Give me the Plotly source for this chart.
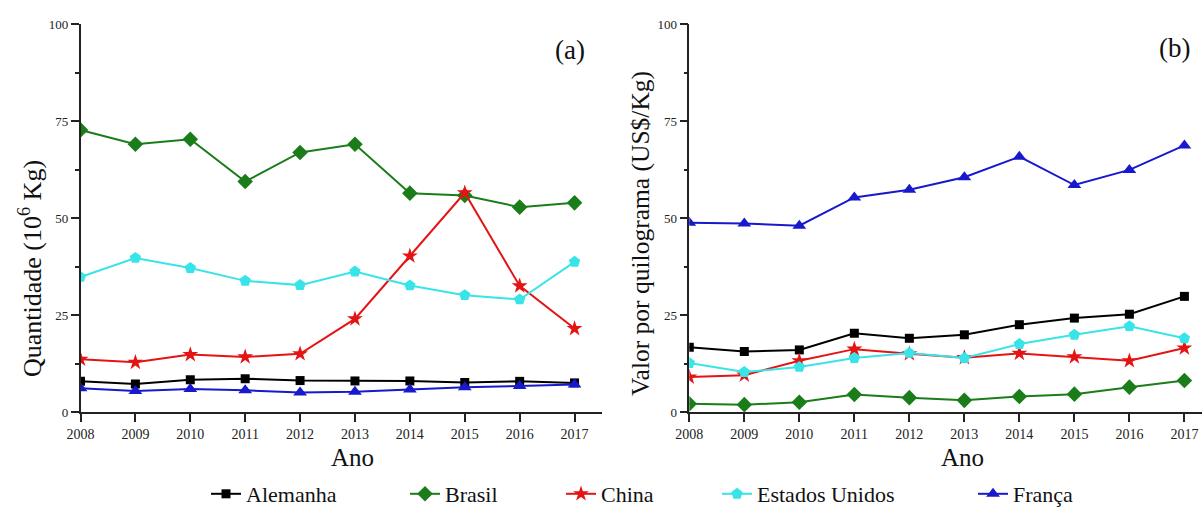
import plotly.graph_objects as go

anos = [2008, 2009, 2010, 2011, 2012, 2013, 2014, 2015, 2016, 2017]

# Panel (a): Quantidade (10^6 Kg)
qa_alemanha = [7.9, 7.2, 8.3, 8.6, 8.1, 8.0, 8.0, 7.6, 7.9, 7.5]
qa_brasil = [72.7, 69.0, 70.3, 59.4, 66.9, 69.0, 56.4, 55.8, 52.8, 53.9]
qa_china = [13.6, 12.8, 14.8, 14.2, 15.0, 24.0, 40.2, 56.5, 32.5, 21.5]
qa_eua = [34.8, 39.7, 37.1, 33.8, 32.7, 36.2, 32.6, 30.1, 29.0, 38.7]
qa_franca = [6.1, 5.4, 5.9, 5.6, 5.0, 5.2, 5.8, 6.4, 6.7, 7.1]

# Panel (b): Valor por quilograma (US$/Kg)
vb_alemanha = [16.7, 15.6, 16.0, 20.3, 19.0, 19.9, 22.5, 24.2, 25.2, 29.8]
vb_brasil = [2.1, 1.9, 2.5, 4.5, 3.7, 3.0, 4.0, 4.6, 6.4, 8.1]
vb_china = [9.0, 9.5, 13.2, 16.2, 15.0, 14.0, 15.1, 14.2, 13.2, 16.5]
vb_eua = [12.6, 10.3, 11.6, 13.9, 15.2, 13.9, 17.5, 19.9, 22.1, 19.0]
vb_franca = [48.8, 48.6, 48.0, 55.3, 57.3, 60.5, 65.8, 58.5, 62.4, 68.7]

paises = ["Alemanha", "Brasil", "China", "Estados Unidos", "França"]
cores = ["#000000", "#1a7d1a", "#e51414", "#38e4e8", "#1818cc"]
simbolos = ["square", "diamond", "star", "pentagon", "triangle-up"]
tamanhos = [9, 12, 12, 12, 12]

dados_a = [qa_alemanha, qa_brasil, qa_china, qa_eua, qa_franca]
dados_b = [vb_alemanha, vb_brasil, vb_china, vb_eua, vb_franca]

FONT = "Liberation Serif"
W, H = 1202, 508
ML, MR, MT, MB = 0, 0, 24, 96
PH = H - MT - MB

# legend text start positions (px) for each entry
leg_text_x = [248, 447, 603, 759, 1015]
leg_names = ["legend", "legend2", "legend3", "legend4", "legend5"]

def px_x(p):
    return p / W

def px_y(p):
    return (H - MB - p) / PH

fig = go.Figure()
for i, nome in enumerate(paises):
    fig.add_trace(go.Scatter(
        x=anos, y=dados_a[i], name=nome, mode="lines+markers",
        line=dict(color=cores[i], width=2),
        marker=dict(symbol=simbolos[i], size=tamanhos[i], color=cores[i]),
        xaxis="x", yaxis="y", legendgroup=nome, showlegend=True,
        legend=leg_names[i]))
for i, nome in enumerate(paises):
    fig.add_trace(go.Scatter(
        x=anos, y=dados_b[i], name=nome, mode="lines+markers",
        line=dict(color=cores[i], width=2),
        marker=dict(symbol=simbolos[i], size=tamanhos[i], color=cores[i]),
        xaxis="x2", yaxis="y2", legendgroup=nome, showlegend=False))

xcommon = dict(
    tickmode="array", tickvals=anos, ticktext=[str(a) for a in anos],
    showline=True, linecolor="#222", linewidth=1.5,
    ticks="outside", ticklen=8, tickwidth=1.5, tickcolor="#222",
    showgrid=False, zeroline=False, automargin=False,
    tickfont=dict(family=FONT, size=14, color="#222"),
)
ycommon = dict(
    range=[0, 100], tickmode="array", tickvals=[0, 25, 50, 75, 100],
    showline=True, linecolor="#222", linewidth=1.5,
    ticks="outside", ticklen=8, tickwidth=1.5, tickcolor="#222",
    minor=dict(tickmode="array", tickvals=[12.5, 37.5, 62.5, 87.5], ticklen=4,
               tickwidth=1.5, tickcolor="#222", ticks="outside", showgrid=False),
    showgrid=False, zeroline=False, automargin=False,
    tickfont=dict(family=FONT, size=13, color="#222"),
)

legend_layouts = {}
for i, ln in enumerate(leg_names):
    legend_layouts[ln] = dict(
        orientation="h", x=px_x(leg_text_x[i] - 42), xanchor="left",
        y=px_y(494), yanchor="middle",
        font=dict(family=FONT, size=22, color="#111"),
        bgcolor="rgba(0,0,0,0)", borderwidth=0)

fig.update_layout(
    width=W, height=H,
    font=dict(family=FONT),
    margin=dict(l=ML, r=MR, t=MT, b=MB, autoexpand=False),
    paper_bgcolor="white", plot_bgcolor="white",
    xaxis=dict(domain=[px_x(80.5), px_x(602)], range=[2008, 2017.5], anchor="y", **xcommon),
    yaxis=dict(domain=[0, 1], anchor="x", **ycommon),
    xaxis2=dict(domain=[px_x(689.3), 1.0], range=[2008, 2017.32], anchor="y2", **xcommon),
    yaxis2=dict(domain=[0, 1], anchor="x2", **ycommon),
    showlegend=True,
    annotations=[
        dict(text="Quantidade (10<sup>6</sup> Kg)", x=px_x(30), y=px_y(269), xref="paper", yref="paper",
             textangle=-90, showarrow=False, xanchor="center", yanchor="middle",
             font=dict(family=FONT, size=26, color="#111")),
        dict(text="Valor por quilograma (US$/Kg)", x=px_x(640), y=px_y(234), xref="paper", yref="paper",
             textangle=-90, showarrow=False, xanchor="center", yanchor="middle",
             font=dict(family=FONT, size=25.5, color="#111")),
        dict(text="Ano", x=px_x(352), y=px_y(457), xref="paper", yref="paper", showarrow=False,
             xanchor="center", yanchor="middle", font=dict(family=FONT, size=25, color="#111")),
        dict(text="Ano", x=px_x(962), y=px_y(457), xref="paper", yref="paper", showarrow=False,
             xanchor="center", yanchor="middle", font=dict(family=FONT, size=25, color="#111")),
        dict(text="(a)", x=px_x(570), y=px_y(50), xref="paper", yref="paper", showarrow=False,
             xanchor="center", yanchor="middle", font=dict(family=FONT, size=27, color="#111")),
        dict(text="(b)", x=px_x(1174), y=px_y(48), xref="paper", yref="paper", showarrow=False,
             xanchor="center", yanchor="middle", font=dict(family=FONT, size=27, color="#111")),
    ],
    **legend_layouts,
)

fig.write_html("out.html", config={"displayModeBar": False},
               post_script="document.body.style.margin='0';document.body.style.overflow='hidden';")
